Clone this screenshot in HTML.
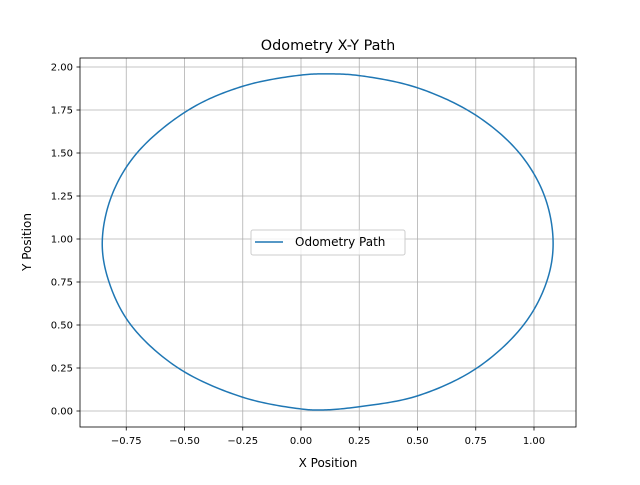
<!DOCTYPE html>
<html><head><meta charset="utf-8"><style>
body{margin:0;background:#fff}
text{font-family:"DejaVu Sans","Liberation Sans",sans-serif;fill:#000}
</style></head><body>
<svg id="chart" width="640" height="480" xmlns="http://www.w3.org/2000/svg">
<rect width="640" height="480" fill="#fff"/>
<g id="grid"></g>
<g id="axes"></g>
<polyline id="path" fill="none" stroke="#1f77b4" stroke-width="1.5" stroke-linejoin="round"/>
<rect x="80" y="58" width="496" height="369" fill="none" stroke="#000" stroke-width="0.8"/>
<text x="328" y="50" font-size="14.4" text-anchor="middle">Odometry X-Y Path</text>
<text x="328" y="467" font-size="12" text-anchor="middle">X Position</text>
<text transform="translate(31,242) rotate(-90)" font-size="12" text-anchor="middle">Y Position</text>
<g>
<rect x="251" y="230" width="154" height="25" rx="2" fill="#fff" fill-opacity="0.8" stroke="#ccc"/>
<line x1="255" y1="242" x2="283" y2="242" stroke="#1f77b4" stroke-width="1.5"/>
<text x="295" y="246" font-size="12">Odometry Path</text>
</g>
</svg>
<script>
const xTicks=[-0.75,-0.5,-0.25,0,0.25,0.5,0.75,1.0];
const xTickLabels=["−0.75","−0.50","−0.25","0.00","0.25","0.50","0.75","1.00"];
const yTicks=[0,0.25,0.5,0.75,1.0,1.25,1.5,1.75,2.0];
const yTickLabels=["0.00","0.25","0.50","0.75","1.00","1.25","1.50","1.75","2.00"];
const pathX=[0.096,0.25,0.5,0.755,0.955,1.054,1.082,1.045,0.937,0.75,0.5,0.25,0.117,0,-0.25,-0.483,-0.704,-0.813,-0.853,-0.824,-0.73,-0.527,-0.25,0,0.096];
const pathY=[0.006,0.025,0.088,0.25,0.5,0.75,0.98,1.25,1.5,1.72,1.879,1.95,1.96,1.953,1.888,1.75,1.5,1.25,0.98,0.75,0.5,0.25,0.08,0.012,0.006];
const sx=v=>301+v*233, sy=v=>411-v*172;
const ns="http://www.w3.org/2000/svg";
const grid=document.getElementById('grid'), axes=document.getElementById('axes');
function mk(t,a,p){const e=document.createElementNS(ns,t);for(const k in a)e.setAttribute(k,a[k]);p.appendChild(e);return e;}
xTicks.forEach((v,i)=>{const x=sx(v);
 const g=mk('line',{x1:x,x2:x,y1:58,y2:427,stroke:'#b0b0b0','stroke-width':0.8},grid);
 
 
 const t=mk('line',{x1:x,x2:x,y1:427,y2:430.5,stroke:'#000','stroke-width':0.8},axes);
 
 
 const l=mk('text',{x:x,y:444,'font-size':10,'text-anchor':'middle'},axes);l.textContent=xTickLabels[i];
 
 });
yTicks.forEach((v,i)=>{const y=sy(v);
 const g=mk('line',{x1:80,x2:576,y1:y,y2:y,stroke:'#b0b0b0','stroke-width':0.8},grid);
 
 
 const t=mk('line',{x1:76.5,x2:80,y1:y,y2:y,stroke:'#000','stroke-width':0.8},axes);
 
 
 const l=mk('text',{x:73,y:y+3.5,'font-size':10,'text-anchor':'end'},axes);l.textContent=yTickLabels[i];
 
 });
// centripetal Catmull-Rom through the data points
const P=pathX.map((v,i)=>[sx(v),sy(pathY[i])]);
const n=P.length;
const get=i=>{if(i<0)return P[n-2+i+1];if(i>=n)return P[i-n+1];return P[i];};
const out=[];
const lerp=(a,b,ta,tb,t)=>{const w=(tb-ta)||1;return [a[0]*(tb-t)/w+b[0]*(t-ta)/w,a[1]*(tb-t)/w+b[1]*(t-ta)/w];};
for(let i=0;i<n-1;i++){
 const p0=get(i-1),p1=P[i],p2=P[i+1],p3=get(i+2);
 const d=(a,b)=>Math.max(1e-3,Math.pow(Math.hypot(b[0]-a[0],b[1]-a[1]),0.5));
 const t0=0,t1=d(p0,p1),t2=t1+d(p1,p2),t3=t2+d(p2,p3);
 for(let k=0;k<20;k++){
  const t=t1+(t2-t1)*k/20;
  const A1=lerp(p0,p1,t0,t1,t),A2=lerp(p1,p2,t1,t2,t),A3=lerp(p2,p3,t2,t3,t);
  const B1=lerp(A1,A2,t0,t2,t),B2=lerp(A2,A3,t1,t3,t);
  out.push(lerp(B1,B2,t1,t2,t));
 }
}
out.push(P[n-1]);
document.getElementById('path').setAttribute('points',out.map(p=>p[0].toFixed(2)+','+p[1].toFixed(2)).join(' '));
</script>
</body></html>
